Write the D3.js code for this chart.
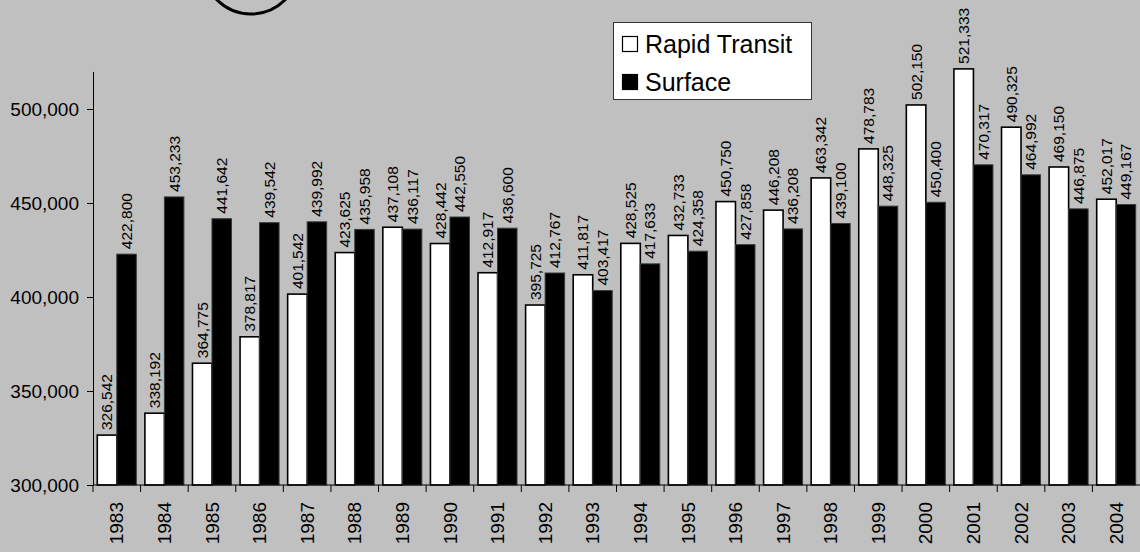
<!DOCTYPE html>
<html>
<head>
<meta charset="utf-8">
<script src="https://cdnjs.cloudflare.com/ajax/libs/d3/7.8.5/d3.min.js"></script>
<style>
	body { margin: 0; background: #c0c0c0; }
	svg { display: block; font-family: "Liberation Sans", Arial, sans-serif; }
</style>
</head>
<body>
<div id="chart"></div>
<script>
//donnees du graphique
var years = ["1983","1984","1985","1986","1987","1988","1989","1990","1991","1992","1993",
	"1994","1995","1996","1997","1998","1999","2000","2001","2002","2003","2004"];
var rapidTransit = [326542, 338192, 364775, 378817, 401542, 423625, 437108, 428442, 412917, 395725, 411817,
	428525, 432733, 450750, 446208, 463342, 478783, 502150, 521333, 490325, 469150, 452017];
var surface = [422800, 453233, 441642, 439542, 439992, 435958, 436117, 442550, 436600, 412767, 403417,
	417633, 424358, 427858, 436208, 439100, 448325, 450400, 470317, 464992, 446875, 449167];
var seriesNames = ["Rapid Transit", "Surface"];
var yTicks = [300000, 350000, 400000, 450000, 500000];

//fonction pour dessiner le graphique en barres
function drawChart(boxName)
{
	var width = 1140,
		height = 552;

	var svg = d3.select(boxName)
		.append("svg")
		.attr("width", width)
		.attr("height", height);

	svg.append("rect")
		.attr("width", width)
		.attr("height", height)
		.attr("fill", "#c0c0c0");

	//le cercle coupe en haut
	svg.append("circle")
		.attr("cx", 251)
		.attr("cy", -34)
		.attr("r", 48)
		.attr("fill", "none")
		.attr("stroke", "#000")
		.attr("stroke-width", 3);

	var x = d3.scaleBand()
		.domain(years)
		.range([93, 1140])
		.padding(0);

	var x1 = d3.scaleBand()
		.domain(seriesNames)
		.range([0, x.bandwidth()])
		.paddingInner(0)
		.paddingOuter(0.22);

	var y = d3.scaleLinear()
		.domain([300000, 520000])
		.range([485, 71.4]);

	var fmt = d3.format(",");
	var colors = { "Rapid Transit": "#fff", "Surface": "#000" };
	var strokes = { "Rapid Transit": "#000", "Surface": "#3a3a3a" };

	//une ligne par annee, avec les deux series
	var rows = years.map(function(yr, i) {
		return [
			{ year: yr, key: "Rapid Transit", value: rapidTransit[i] },
			{ year: yr, key: "Surface", value: surface[i] }
		];
	});

	var groups = svg.append("g")
		.selectAll("g")
		.data(rows)
		.join("g")
		.attr("transform", function(d) { return "translate(" + x(d[0].year) + ",0)"; });

	groups.selectAll("rect")
		.data(function(d) { return d; })
		.join("rect")
		.attr("x", function(d) { return x1(d.key); })
		.attr("y", function(d) { return y(d.value); })
		.attr("width", x1.bandwidth())
		.attr("height", function(d) { return y(300000) - y(d.value); })
		.attr("fill", function(d) { return colors[d.key]; })
		.attr("stroke", function(d) { return strokes[d.key]; })
		.attr("stroke-width", function(d) { return d.key === "Rapid Transit" ? 1.6 : 1; });

	//etiquettes des valeurs, verticales
	groups.selectAll("text")
		.data(function(d) { return d; })
		.join("text")
		.attr("transform", function(d) {
			return "translate(" + (x1(d.key) + x1.bandwidth() / 2) + "," + (y(d.value) - 5) + ") rotate(-90)";
		})
		.attr("dy", "0.35em")
		.attr("font-size", 15.5)
		.attr("fill", "#000")
		.text(function(d) { return fmt(d.value); });

	//axe y
	var yAxis = svg.append("g")
		.attr("transform", "translate(93,0)")
		.call(d3.axisLeft(y).tickValues(yTicks).tickFormat(fmt).tickSize(6).tickSizeOuter(0).tickPadding(8));
	yAxis.select(".domain").attr("stroke", "#000");
	yAxis.selectAll("text").attr("font-size", 19).attr("font-family", "Liberation Sans, Arial, sans-serif");

	//axe x : traits entre les categories
	var xAxis = svg.append("g")
		.attr("transform", "translate(0,485)");
	xAxis.append("line")
		.attr("x1", 93)
		.attr("x2", 1140)
		.attr("stroke", "#000");
	xAxis.selectAll("line.tick")
		.data(years)
		.join("line")
		.attr("class", "tick")
		.attr("x1", function(d) { return x(d); })
		.attr("x2", function(d) { return x(d); })
		.attr("y1", 0)
		.attr("y2", 7)
		.attr("stroke", "#000");
	xAxis.selectAll("text")
		.data(years)
		.join("text")
		.attr("transform", function(d) {
			return "translate(" + (x(d) + x.bandwidth() / 2) + ",17) rotate(-90)";
		})
		.attr("dy", "0.35em")
		.attr("text-anchor", "end")
		.attr("font-size", 19)
		.text(function(d) { return d; });

	//legende
	var legend = svg.append("g");
	legend.append("rect")
		.attr("x", 613.5)
		.attr("y", 22.5)
		.attr("width", 198)
		.attr("height", 77)
		.attr("fill", "#fff")
		.attr("stroke", "#333");

	var items = legend.selectAll("g")
		.data(seriesNames)
		.join("g")
		.attr("transform", function(d, i) { return "translate(622," + (44 + i * 38) + ")"; });

	items.append("rect")
		.attr("x", 0.5)
		.attr("y", -7.5)
		.attr("width", 15)
		.attr("height", 15)
		.attr("fill", function(d) { return colors[d]; })
		.attr("stroke", "#000")
		.attr("stroke-width", 1.2);

	items.append("text")
		.attr("x", 23)
		.attr("dy", "0.36em")
		.attr("font-size", 25)
		.text(function(d) { return d; });
}

drawChart("#chart");
</script>
</body>
</html>
